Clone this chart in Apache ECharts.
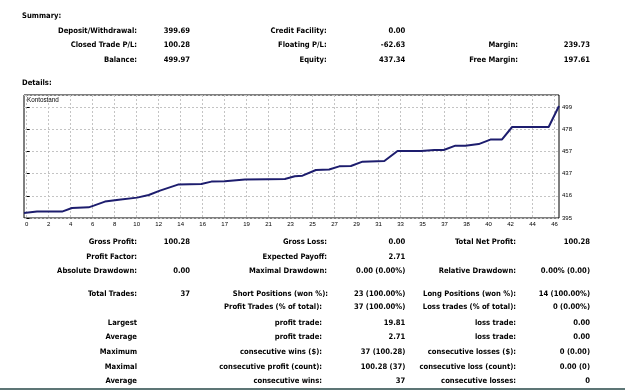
<!DOCTYPE html>
<html>
<head>
<meta charset="utf-8">
<script src="https://cdn.jsdelivr.net/npm/echarts@6/dist/echarts.min.js"></script>
<style>
  html, body { margin: 0; padding: 0; background: #fff; }
  #main { width: 625px; height: 390px; }
</style>
</head>
<body>
<div id="main"></div>
<script>
"use strict";

// balance curve, x in tick steps of the chart, y = balance
const balanceX = [
  -0.12, 0.47, 1.61, 2.06, 2.82, 3.05, 3.56, 4.19, 5.02, 5.55, 6.06, 6.88, 7.94,
  8.4, 9.01, 9.92, 10.98, 11.74, 12.19, 12.54, 13.15, 13.75, 14.21, 14.74, 15.27,
  16.26, 16.86, 17.93, 18.53, 18.96, 19.49, 19.94, 20.55, 21.08, 21.61, 22.07,
  23.73, 24.2,
];
const balanceY = [
  399.69, 401.0, 401.0, 404.4, 405.0, 406.6, 410.4, 412.2, 414.1, 416.6, 420.7,
  426.3, 426.9, 429.1, 429.4, 431.0, 431.3, 431.5, 434.1, 434.7, 440.0, 440.4,
  443.4, 443.7, 447.8, 448.4, 457.8, 457.8, 458.7, 458.7, 462.8, 462.8, 464.3,
  468.5, 468.7, 480.3, 480.3, 499.97,
];
const xTickLabels = [
  "0", "2", "4", "6", "8", "10", "12", "14", "16", "17", "19", "21", "23",
  "25", "27", "29", "31", "33", "35", "37", "38", "40", "42", "44", "46",
];
const chartName = "Kontostand";

const summaryTitle = "Summary:";
const detailsTitle = "Details:";
const summaryRows = [
  ["Deposit/Withdrawal:", "399.69", "Credit Facility:", "0.00", "", ""],
  ["Closed Trade P/L:", "100.28", "Floating P/L:", "-62.63", "Margin:", "239.73"],
  ["Balance:", "499.97", "Equity:", "437.34", "Free Margin:", "197.61"],
];
const detailRows = [
  ["Gross Profit:", "100.28", "Gross Loss:", "0.00", "Total Net Profit:", "100.28"],
  ["Profit Factor:", "", "Expected Payoff:", "2.71", "", ""],
  ["Absolute Drawdown:", "0.00", "Maximal Drawdown:", "0.00 (0.00%)", "Relative Drawdown:", "0.00% (0.00)"],
  ["Total Trades:", "37", "Short Positions (won %):", "23 (100.00%)", "Long Positions (won %):", "14 (100.00%)"],
  ["", "", "Profit Trades (% of total):", "37 (100.00%)", "Loss trades (% of total):", "0 (0.00%)"],
  ["Largest", "", "profit trade:", "19.81", "loss trade:", "0.00"],
  ["Average", "", "profit trade:", "2.71", "loss trade:", "0.00"],
  ["Maximum", "", "consecutive wins ($):", "37 (100.28)", "consecutive losses ($):", "0 (0.00)"],
  ["Maximal", "", "consecutive profit (count):", "100.28 (37)", "consecutive loss (count):", "0.00 (0)"],
  ["Average", "", "consecutive wins:", "37", "consecutive losses:", "0"],
];

// layout
const FONT = "'DejaVu Sans Condensed', 'Liberation Sans', sans-serif";
const summaryY = [31, 45.5, 60.5];
const detailY = [241.7, 257.3, 271, 294, 307.3, 323.3, 337.3, 352.3, 366.7, 381];
const summaryColX = [137, 190, 326.7, 405.3, 518, 590];
const detailColX = [137, 190, 327, 405.3, 516, 590];
const detailCol3X = [327, 327, 327, 328, 322, 322, 322, 322, 322, 322];

function txt(str, x, y, align, opts) {
  return {
    type: "text",
    silent: true,
    style: Object.assign({
      text: str,
      x: x,
      y: y,
      textAlign: align,
      textVerticalAlign: "middle",
      fontFamily: FONT,
      fontWeight: "bold",
      fontSize: 7.6,
      fill: "#000",
    }, opts || {}),
  };
}

let graphics = [];
graphics.push(txt(summaryTitle, 22, 16, "left"));
graphics.push(txt(detailsTitle, 22, 82.7, "left"));
summaryRows.forEach((row, i) => {
  row.forEach((cell, j) => {
    if (cell) graphics.push(txt(cell, summaryColX[j], summaryY[i], "right"));
  });
});
detailRows.forEach((row, i) => {
  row.forEach((cell, j) => {
    if (!cell) return;
    let x = j === 2 ? detailCol3X[i] : detailColX[j];
    graphics.push(txt(cell, x, detailY[i], "right"));
  });
});
graphics.push(txt(chartName, 27, 100.5, "left", { fontWeight: "normal", fontSize: 6.3, fontFamily: "'Liberation Sans', sans-serif" }));
graphics.push({
  type: "rect",
  silent: true,
  shape: { x: 0, y: 388, width: 625, height: 2 },
  style: { fill: "#5d7676" },
});

const tickIdx = xTickLabels.map((_, i) => i);

let chartDom = document.getElementById("main");
let myChart = echarts.init(chartDom);

let option = {
  animation: false,
  backgroundColor: "#fff",
  grid: {
    left: 24,
    right: 66,
    top: 95,
    bottom: 172,
    show: true,
    borderColor: "#000",
    borderWidth: 1,
    backgroundColor: "transparent",
  },
  xAxis: {
    type: "value",
    min: -0.12,
    max: 24.2,
    axisLine: { show: false },
    axisTick: { show: false, customValues: tickIdx },
    splitLine: { lineStyle: { color: "#c4c4c4", type: [2, 2], width: 1 } },
    axisLabel: {
      customValues: tickIdx,
      fontSize: 6,
      margin: 3,
      color: "#000",
      fontFamily: "'Liberation Sans', sans-serif",
      formatter: (v) => xTickLabels[Math.round(v)] || "",
    },
  },
  yAxis: {
    type: "value",
    position: "right",
    min: 395,
    max: 510.3,
    interval: 20.8,
    axisLine: { show: false },
    axisTick: { show: true, length: 3, lineStyle: { color: "#000" } },
    splitLine: { lineStyle: { color: "#c4c4c4", type: [2, 2], width: 1 } },
    axisLabel: {
      showMaxLabel: false,
      fontSize: 6,
      margin: 3,
      color: "#000",
      fontFamily: "'Liberation Sans', sans-serif",
      formatter: (v) => String(Math.round(v)),
    },
  },
  series: [
    {
      name: chartName,
      type: "line",
      data: balanceX.map((x, i) => [x, balanceY[i]]),
      showSymbol: false,
      lineStyle: { color: "#1d1d6e", width: 2 },
    },
  ],
  graphic: graphics,
};

option && myChart.setOption(option);
</script>
</body>
</html>
